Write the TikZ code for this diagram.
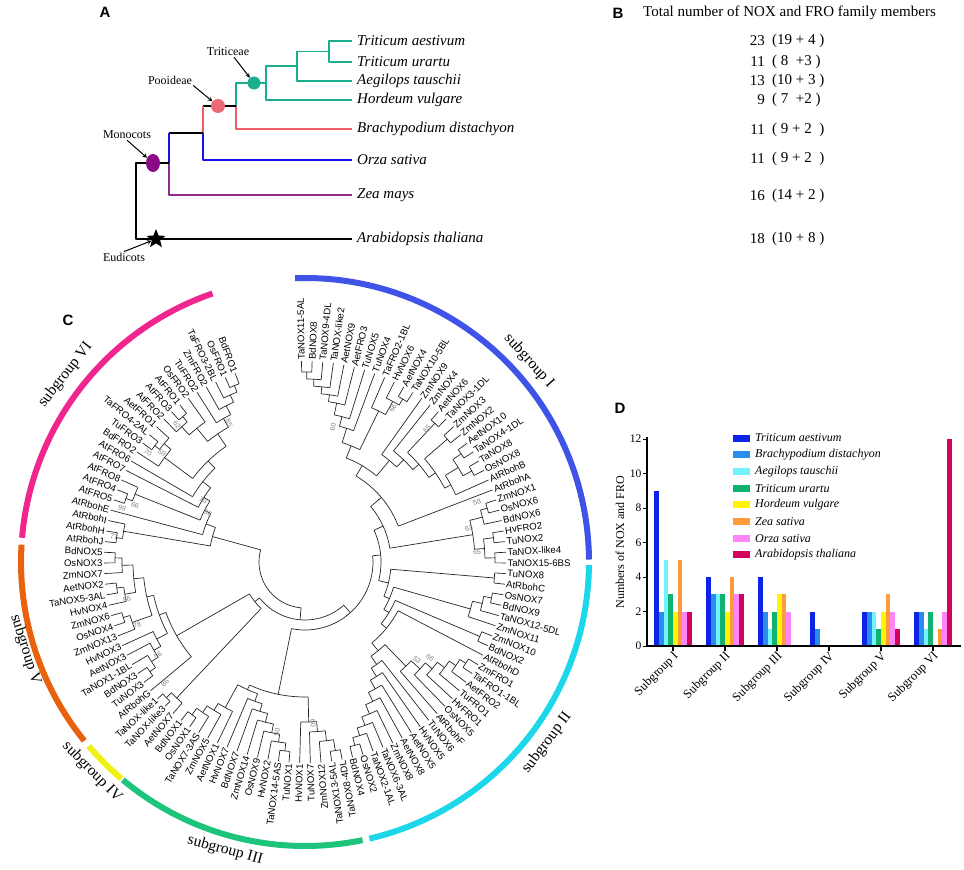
\documentclass[tikz,border=0pt]{standalone}
\usepackage{fontspec}
\setmainfont{Liberation Serif}
\setsansfont{Liberation Sans}
\usetikzlibrary{shapes.geometric}
% panel A
\definecolor{trit}{HTML}{19AE8D}
\definecolor{pooi}{HTML}{EE5D68}
\definecolor{pooc}{HTML}{EB6A74}
\definecolor{oryz}{HTML}{1212EC}
\definecolor{monl}{HTML}{8E2A8E}
\definecolor{monc}{HTML}{8A0A85}
% panel C rings
\definecolor{sgI}{HTML}{3F53E6}
\definecolor{sgII}{HTML}{1CD6EA}
\definecolor{sgIII}{HTML}{1EC47C}
\definecolor{sgIV}{HTML}{F0F014}
\definecolor{sgV}{HTML}{E8620E}
\definecolor{sgVI}{HTML}{F0258D}
% panel D bars
\definecolor{barc0}{HTML}{0B24E8}
\definecolor{barc1}{HTML}{2B8CF0}
\definecolor{barc2}{HTML}{72F2FA}
\definecolor{barc3}{HTML}{0FB26E}
\definecolor{barc4}{HTML}{FFF500}
\definecolor{barc5}{HTML}{FF9A3A}
\definecolor{barc6}{HTML}{FF85FA}
\definecolor{barc7}{HTML}{D4005E}
\tikzset{
  branch/.style={line width=.7pt,black!85},
  leaflab/.style={font=\sffamily\fontsize{9.6}{10}\selectfont,inner sep=0.4pt},
  boot/.style={font=\sffamily\fontsize{7}{8}\selectfont,text=black!50,inner sep=0pt},
  sublab/.style={font=\fontsize{15.5}{16}\selectfont,inner sep=0pt},
  ring/.style={line width=6pt},
  spec/.style={font=\itshape\fontsize{15}{16}\selectfont,anchor=west,inner sep=0pt},
  num/.style={font=\fontsize{15}{16}\selectfont,inner sep=0pt},
  clade/.style={font=\fontsize{12}{13}\selectfont,inner sep=1pt},
  panel/.style={font=\sffamily\bfseries\fontsize{15}{16}\selectfont,inner sep=0pt},
  abr/.style={line width=1.3pt},
  legl/.style={font=\itshape\fontsize{12}{13}\selectfont,anchor=west,inner sep=0pt},
  axl/.style={font=\fontsize{11.5}{12}\selectfont,inner sep=0.5pt}
}
\begin{document}
\begin{tikzpicture}[x=1pt,y=-1pt,>=stealth,line join=round]
\useasboundingbox (0,0) rectangle (964,870);

% ---------- A: species tree
\node[panel] (pA) at (105,12) {A};
\draw[abr,trit] (352,41) -| (329,62) -- (352,62);
\draw[abr,trit] (329,51.5) -- (297,51.5) |- (352,81);
\draw[abr,trit] (297,66) -- (266,66) |- (352,100);
\draw[abr,trit] (266,83) -- (236,83) -- (236,106);
\draw[abr,pooi] (236,106) |- (352,129);
\draw[abr] (236,106) -- (203,106);
\draw[abr,pooi] (203,106) -- (203,133);
\draw[abr,oryz] (203,133) |- (352,160);
\draw[abr] (203,133) -- (169,133);
\draw[abr,oryz] (169,133) -- (169,163);
\draw[abr,monl] (169,163) |- (352,195);
\draw[abr] (169,163) -- (136,163) |- (352,239);
\node[circle,fill=trit,minimum size=13pt,inner sep=0pt] (tri) at (254,83) {};
\node[circle,fill=pooc,minimum size=14pt,inner sep=0pt] (poo) at (218,106) {};
\node[ellipse,fill=monc,minimum width=14pt,minimum height=18pt,inner sep=0pt] (mon) at (153,163) {};
\node[star,star points=5,star point ratio=2.3,fill=black,minimum size=20pt,inner sep=0pt] (eud) at (156,239) {};
\node[clade] (lTri) at (228,52) {Triticeae};
\node[clade] (lPoo) at (170,80) {Pooideae};
\node[clade] (lMon) at (127,135) {Monocots};
\node[clade] (lEud) at (124,257) {Eudicots};
\draw[->,line width=1pt] ([xshift=6pt]lTri.south) -- (tri);
\draw[->,line width=1pt] (lPoo.south east) -- (poo);
\draw[->,line width=1pt] (lMon.south) -- (mon);
\draw[->,line width=1pt] (lEud.north) -- (eud);
\foreach \sp/\y [count=\i] in {Triticum aestivum/41,Triticum urartu/62,Aegilops tauschii/81,Hordeum vulgare/100,
  Brachypodium distachyon/129,Orza sativa/160,Zea mays/195,Arabidopsis thaliana/239}
  \node[spec] (sp\i) at (357,\y) {\sp};

% ---------- B: member counts
\node[panel] (pB) at (618,13) {B};
\node[num,anchor=west] (tB) at (643,13) {Total number of NOX and FRO family members};
\foreach \tot/\ex/\y [count=\i] in {23/(19 + 4 )/41,11/( 8 \ +3 )/62,13/(10 + 3 )/81,9/( 7 \ +2 )/100,
  11/( 9 + 2 \ )/130,11/( 9 + 2 \ )/159,16/(14 + 2 )/196,18/(10 + 8 )/239}{
  \node[num,anchor=east] (tot\i) at (765,\y) {\tot};
  \node[num,anchor=west] (ex\i) at (772,\y) {\ex};
}

% ---------- C: circular NOX/FRO tree
\node[panel] (pC) at (68,320) {C};
\begin{scope}[shift={(305,562)},yscale=-1]
\draw[ring,sgI] (92:284) arc[start angle=92,end angle=0.5,radius=284];
\draw[ring,sgII] (-0.6:284) arc[start angle=-0.6,end angle=-76.9,radius=284];
\draw[ring,sgIII] (-78.3:284) arc[start angle=-78.3,end angle=-129.9,radius=284];
\draw[ring,sgIV] (-130.3:284) arc[start angle=-130.3,end angle=-139.6,radius=284];
\draw[ring,sgV] (-141:284) arc[start angle=-141,end angle=-183.5,radius=284];
\draw[ring,sgVI] (-184.9:284) arc[start angle=-184.9,end angle=-251,radius=284];
\node[sublab,rotate=-48] (sg1) at (41.9:301) {subgroup I};
\node[sublab,rotate=53] (sg2) at (-36.8:302) {subgroup II};
\node[sublab,rotate=-15.5] (sg3) at (-105.5:299) {subgroup III};
\node[sublab,rotate=-45.4] (sg4) at (224.6:299) {subgroup IV};
\node[sublab,rotate=-72.6] (sg5) at (197.4:293) {subgroup V};
\node[sublab,rotate=52] (sg6) at (142:304) {subgroup VI};
% internal clades: radius / first child / last child / parent radius
\foreach \r/\a/\b/\rp in {190/0/1/183,183/.5/2/176,176/1.25/3/169,169/2.125/4/162,162/3.06/5/150,150/4.03/6/140,140/5.02/7/125,
  190/10/11/183,183/9/10.5/168,168/8/9.75/125,125/6.01/8.875/112,
  190/14/15/150,188/16/17/158,190/18/19/180,190/20/21/180,180/18.5/20.5/165,165/19.5/22/158,158/16.5/20.75/150,
  150/14.5/18.625/142,142/13/16.56/132,132/12/14.78/112,112/7.44/13.39/100,100/10.41/23/86,
  190/24/25/183,183/24.5/26/170,190/27/28/180,190/29/30/180,180/27.5/29.5/170,170/25.25/28.5/86,86/16.7/26.875/76,
  190/31/32/86,190/33/34/182,182/33.5/35/172,172/34.25/36/92,190/37/38/98,
  190/40/41/183,183/40.5/42/175,175/41.25/43/166,166/42.125/44/157,157/43.06/45/145,145/44.03/46/115,
  190/54/55/182,182/53/54.5/174,174/52/53.75/165,165/51/52.875/155,155/50/51.94/145,145/49/50.97/135,
  135/48/49.98/125,125/47/48.99/115,115/45.02/47.99/105,105/39/46.5/98,98/37.5/42.75/92,92/35.125/40.125/86,
  86/31.5/37.625/76,76/21.79/34.56/68,
  191/56/57/180,180/56.5/58/170,170/57.25/59/160,160/58.125/60/135,
  190/61/62/182,182/61.5/63/174,174/62.25/64/165,165/63.125/65/156,156/64.06/66/148,148/65.03/67/140,
  190/71/72/182,182/70/71.5/174,174/69/70.75/166,166/68/69.875/140,140/66.02/68.94/135,135/59.06/67.48/68,68/28.18/63.27/58,
  194/74/75/187,187/73/74.5/64,
  190/89/90/183,183/88/89.5/172,190/86/87/183,183/85/86.5/172,172/85.75/88.75/162,190/83/84/183,183/82/83.5/162,
  162/82.75/87.25/155,190/77/78/183,183/77.5/79/175,175/78.25/80/167,167/79.125/81/155,155/80.06/85/148,
  148/76/82.53/64,64/73.75/79.27/58,58/45.72/76.51/46,
  190/91/92/184,184/91.5/93/96,190/95/96/183,183/95.5/97/113,
  190/101/102/184,184/101.5/103/175,175/100/102.25/140,190/105/106/183,183/104/105.5/172,172/104.75/107/155,
  190/111/112/183,183/110/111.5/175,175/109/110.75/165,165/108/109.875/155,155/105.875/108.94/140,
  140/101.125/107.41/130,130/99/104.27/120,120/98/101.63/113,113/96.25/99.82/106,106/94/98.03/96,96/92.25/96.02/46,
  46/61.12/94.13/46}{
  \pgfmathsetmacro\ta{91-3.042*\a}
  \pgfmathsetmacro\tb{91-3.042*\b}
  \pgfmathsetmacro\tm{(\ta+\tb)/2}
  \draw[branch] (\ta:\r) arc[start angle=\ta,end angle=\tb,radius=\r];
  \draw[branch] (\tm:\rp) -- (\tm:\r);
}
% leaves: label / parent radius
\foreach \lab/\rp [count=\i from 0] in {TaNOX11-5AL/190,BdNOX8/190,TaNOX9-4DL/183,TaNOX-like2/176,AetNOX9/169,AetFRO3/162,
  TuNOX5/150,TuNOX4/140,TaFRO2-1BL/168,HvNOX6/183,AetNOX4/190,TaNOX10-5BL/190,ZmNOX9/132,ZmNOX4/142,AetNOX6/190,
  TaNOX3-1DL/190,ZmNOX3/188,ZmNOX2/188,AetNOX10/190,TaNOX4-1DL/190,TaNOX8/190,OsNOX8/190,AtRbohB/165,AtRbohA/100,
  ZmNOX1/190,OsNOX6/190,BdNOX6/183,HvFRO2/190,TuNOX2/190,TaNOX-like4/190,TaNOX15-6BS/190,
  TuNOX8/190,AtRbohC/190,OsNOX7/190,BdNOX9/190,TaNOX12-5DL/182,ZmNOX11/172,ZmNOX10/190,BdNOX2/190,AtRbohD/105,
  ZmFRO1/190,TaFRO1-1BL/190,AetFRO2/183,TuFRO1/175,HvFRO1/166,OsNOX5/157,AtRbohF/145,TuNOX6/125,HvNOX5/135,
  AetNOX5/145,AetNOX8/155,ZmNOX8/165,TaNOX6-3AL/174,TaNOX2-1AL/182,OsNOX2/190,BdNOX4/190,
  TaNOX8-4DL/191,TaNOX13-5AL/191,ZmNOX12/180,TuNOX7/170,HvNOX1/160,TuNOX1/190,TaNOX14-5AS/190,HvNOX2/182,
  OsNOX9/174,ZmNOX14/165,BdNOX7/156,HvNOX7/148,AetNOX1/166,ZmNOX5/174,TaNOX7-3AS/182,OsNOX1/190,BdNOX1/190,
  AetNOX7/187,TaNOX-like3/194,TaNOX-like1/194,
  AtRbohG/148,TuNOX3/190,BdNOX3/190,TaNOX1-1BL/183,AetNOX3/175,HvNOX3/167,ZmNOX13/183,OsNOX4/190,ZmNOX6/190,
  HvNOX4/183,TaNOX5-3AL/190,AetNOX2/190,ZmNOX7/183,OsNOX3/190,BdNOX5/190,
  AtRbohJ/190,AtRbohH/190,AtRbohI/184,AtRbohE/106,AtFRO5/190,AtFRO4/190,AtFRO8/183,AtFRO7/120,AtFRO6/130,
  BdFRO2/175,TuFRO3/190,TaFRO4-2AL/190,AetFRO1/184,AtFRO2/183,AtFRO3/190,AtFRO1/190,OsFRO2/172,TuFRO2/165,
  ZmFRO2/175,TaFRO3-2BL/183,OsFRO1/190,BdFRO1/190}{
  \pgfmathsetmacro\th{91-3.042*\i}
  \pgfmathsetmacro\thb{\th+180}
  \draw[branch] (\th:\rp) -- (\th:201);
  \ifnum\i<56
    \node[leaflab,anchor=west,rotate=\th] (l\i) at (\th:202) {\lab};
  \else
    \node[leaflab,anchor=east,rotate=\thb] (l\i) at (\th:202) {\lab};
  \fi
}
\end{scope}
% bootstrap values
\foreach \bx/\by/\bv [count=\n] in {333/427/60,393/408/66,427/429/65,477/502/58,469/528/63,477/552/65,417/660/53,
  430/658/66,313/723/60,277/732/50,165/683/86,158/655/56,137/625/78,127/599/86,114/537/77,122/508/99,135/505/66,
  208/513/56,203/500/70,148/453/70,162/453/59,177/425/62,229/423/85}{
  \pgfmathsetmacro\rot{\bx<305 ? atan2(562-\by,\bx-305)+180 : atan2(562-\by,\bx-305)}
  \node[boot,rotate=\rot] (bs\n) at (\bx,\by) {\bv};
}

% ---------- D: bar chart
\node[panel] (pD) at (620,408) {D};
\foreach \vals [count=\k from 0] in {{9,2,5,3,2,5,2,2},{4,3,3,3,2,4,3,3},{4,2,1,2,3,3,2,0},
  {2,1,0,0,0,0,0,0},{2,2,2,1,2,3,2,1},{2,2,1,2,0,1,2,12}}{
  \foreach \v [count=\j from 0] in \vals
    \fill[fill=barc\j] ({654.2+52*\k+4.7*\j},646) rectangle ++(4.7,{-17.25*\v});
}
\draw[line width=1.2pt] (647,437) -- (647,647);
\draw[line width=2pt] (646,646) -- (961,646);
\foreach \t in {0,2,...,12}{
  \draw[line width=1pt] (643,{646-17.25*\t}) -- (647,{646-17.25*\t});
  \node[axl,anchor=east] (yt\t) at (642,{646-17.25*\t}) {\t};
}
\foreach \g [count=\k from 0] in {I,II,III,IV,V,VI}{
  \draw[line width=1.2pt] ({673+52*\k},646) -- ({673+52*\k},651);
  \node[axl,font=\fontsize{12.5}{13}\selectfont,anchor=east,rotate=45] (xg\k) at ({677+52*\k},654) {Subgroup \g};
}
\node[axl,font=\fontsize{12}{13}\selectfont,rotate=90] (yl) at (620,542) {Numbers of NOX and FRO};
\foreach \nm [count=\j from 0] in {Triticum aestivum,Brachypodium distachyon,Aegilops tauschii,Triticum urartu,
  Hordeum vulgare,Zea sativa,Orza sativa,Arabidopsis thaliana}{
  \fill[fill=barc\j] (733,{434.5+16.7*\j}) rectangle ++(17,7);
  \node[legl] (lg\j) at (755,{438+16.7*\j}) {\nm};
}
\end{tikzpicture}
\end{document}
